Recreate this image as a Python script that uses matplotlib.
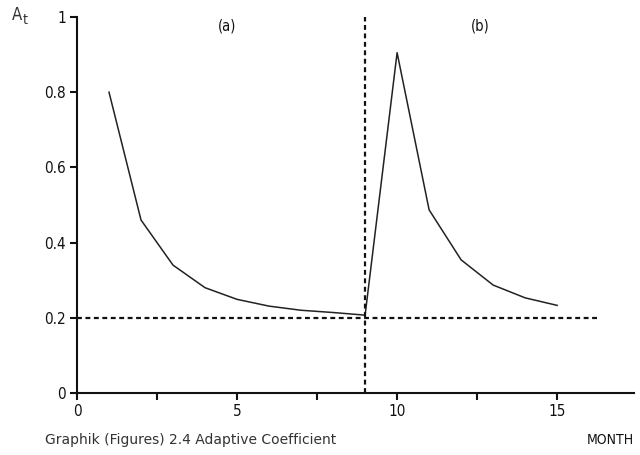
import matplotlib
matplotlib.use("Agg")
import matplotlib.pyplot as plt
from matplotlib.ticker import MultipleLocator

# adaptive coefficient A_t per month
months_a = [1, 2, 3, 4, 5, 6, 7, 8, 9]
coef_a = [0.80, 0.46, 0.34, 0.28, 0.249, 0.231, 0.22, 0.214, 0.207]
months_b = [9, 10, 11, 12, 13, 14, 15]
coef_b = [0.207, 0.905, 0.487, 0.354, 0.287, 0.253, 0.233]
base_level = 0.2
switch_month = 9
x_ticks = [0, 5, 10, 15]
y_ticks = [0, 0.2, 0.4, 0.6, 0.8, 1]
y_tick_labels = ["0", "0.2", "0.4", "0.6", "0.8", "1"]

plt.rcParams["font.family"] = ["DejaVu Sans"]
plt.rcParams["font.stretch"] = "condensed"

fig = plt.figure(figsize=(6.4, 4.55), dpi=100)
ax = fig.add_axes([0.1203, 0.1363, 0.8703, 0.8264])

ax.plot(months_a, coef_a, color="#222222", lw=1.1)
ax.plot(months_b, coef_b, color="#222222", lw=1.1)

# reference lines
ax.plot([0, 16.25], [base_level, base_level], color="#111111", lw=1.6,
        linestyle=(0, (2.2, 1.6)))
ax.plot([switch_month, switch_month], [0, 1], color="#111111", lw=1.6,
        linestyle=(0, (2.2, 1.6)))

ax.set_xlim(0, 17.4)
ax.set_ylim(0, 1)
ax.set_xticks(x_ticks)
ax.xaxis.set_minor_locator(MultipleLocator(2.5))
ax.set_yticks(y_ticks)
ax.set_yticklabels(y_tick_labels)

for s in ["top", "right"]:
    ax.spines[s].set_visible(False)
for s in ["left", "bottom"]:
    ax.spines[s].set_linewidth(1.5)
    ax.spines[s].set_color("#111111")

ax.tick_params(axis="both", which="both", direction="out", width=1.5,
               length=5, labelsize=11, colors="#111111", pad=3)

ax.text(4.7, 0.995, "(a)", ha="center", va="top", fontsize=10.5, color="#111111")
ax.text(12.6, 0.995, "(b)", ha="center", va="top", fontsize=10.5, color="#111111")

fig.text(0.019, 0.968, "A", fontsize=12, color="#333333", ha="left", va="center")
fig.text(0.036, 0.957, "t", fontsize=10, color="#333333", ha="left", va="center")

fig.text(0.070, 0.032, "Graphik (Figures) 2.4 Adaptive Coefficient", fontsize=10,
         color="#333333", ha="left", va="center", stretch="normal")
fig.text(0.99, 0.032, "MONTH", fontsize=10, color="#111111", ha="right", va="center")

fig.savefig("out.png", dpi=100)
